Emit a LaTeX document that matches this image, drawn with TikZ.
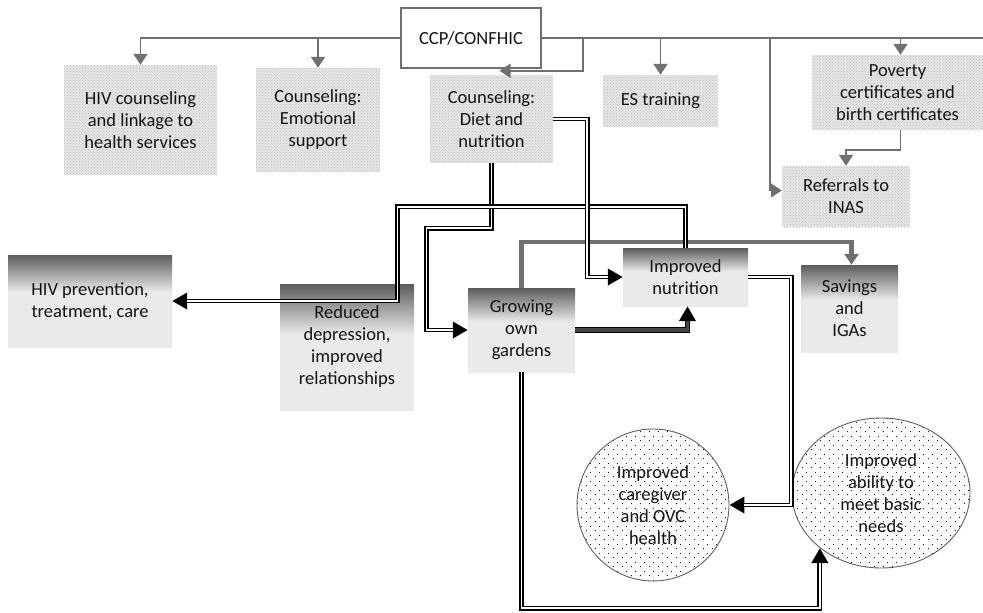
\documentclass[tikz,border=0pt]{standalone}
\usepackage{fontspec}
\setmainfont{Carlito}
\usetikzlibrary{arrows.meta,patterns,patterns.meta,shapes.geometric}

\definecolor{linegray}{RGB}{112,112,112}
\definecolor{boxdark}{RGB}{92,92,92}
\definecolor{boxlight}{RGB}{234,234,234}
\definecolor{inkcol}{RGB}{20,20,20}

% dark band at the top of an outcome box fading into a light body
\pgfdeclareverticalshading{boxshade}{100bp}{color(0bp)=(boxlight); color(25bp)=(boxlight); color(55bp)=(boxlight); color(75bp)=(boxdark); color(100bp)=(boxdark)}

% loose staggered dots for the two result ellipses
\tikzdeclarepattern{
  name=sparsedots,
  type=uncolored,
  bounding box={(0pt,0pt) and (9pt,9pt)},
  tile size={(9pt,9pt)},
  code={
    \fill (1.5pt,1.5pt) circle (0.65pt);
    \fill (6pt,6pt) circle (0.65pt);
  }
}

\tikzset{
  txt/.style={font=\fontsize{18.5}{22}\selectfont, text=inkcol, align=center, inner sep=0pt},
  service/.style={txt, preaction={fill=gray!20}, pattern=crosshatch dots, pattern color=gray!50},
  outcome/.style={txt, shading=boxshade},
  result/.style={txt, draw=gray!75!black, line width=0.9pt, preaction={fill=white},
                 pattern=sparsedots, pattern color=black},
  feed/.style={draw=linegray, line width=1.8pt},
  gtip/.style={-{Triangle[length=11pt,width=14pt]}},
  btip/.style={-{Triangle[length=15pt,width=16pt]}},
  % black double line: thick black stroke with a white core laid on top
  dbl/.style={draw=black, line width=4.9pt, btip,
              postaction={draw=white, line width=1.9pt, arrows=-, shorten >=14.5pt}},
  bar/.style={draw=black, line width=5.6pt, btip,
              postaction={draw=gray!55!black, line width=3.2pt, arrows=-, shorten >=14.5pt}},
  graybar/.style={draw=linegray, line width=4.5pt},
}

\begin{document}
\begin{tikzpicture}[x=1pt,y=-1pt]
\useasboundingbox (0,0) rectangle (983,613);

% organisation and its services
\node[txt, draw=linegray, line width=1.3pt, fill=white, minimum width=140, minimum height=60]
  (ccp) at (471,38) {CCP/CONFHIC};
\node[service, minimum width=153, minimum height=110] (hivc) at (140.5,120)
  {HIV counseling\\and linkage to\\health services};
\node[service, minimum width=124, minimum height=104] (emo) at (318,120)
  {Counseling:\\Emotional\\support};
\node[service, minimum width=123, minimum height=88] (diet) at (491.5,119)
  {Counseling:\\Diet and\\nutrition};
\node[service, minimum width=115, minimum height=52] (es) at (660.5,101) {ES training};
\node[service, minimum width=171, minimum height=75] (pov) at (897.5,92.5)
  {Poverty\\certificates and\\birth certificates};
\node[service, minimum width=128, minimum height=61] (inas) at (846,196.5)
  {Referrals to\\INAS};

% intermediate outcomes
\node[outcome, minimum width=164, minimum height=92] (hivp) at (90,301)
  {HIV prevention,\\treatment, care};
\node[outcome, minimum width=134, minimum height=126] (dep) at (347,347)
  {Reduced\\depression,\\improved\\relationships};
\node[outcome, minimum width=107, minimum height=84] (gard) at (521.5,330)
  {Growing\\own\\gardens};
\node[outcome, minimum width=125, minimum height=58] (nut) at (685.5,277)
  {Improved\\nutrition};
\node[outcome, minimum width=97, minimum height=87] (sav) at (849.5,308.5)
  {Savings\\and\\IGAs};

% final results
\node[result, circle, minimum size=152] (care) at (653,505)
  {Improved\\caregiver\\and OVC\\health};
\node[result, ellipse, minimum width=178, minimum height=150] (abil) at (881,493)
  {Improved\\ability to\\meet basic\\needs};

% service links from the organisation
\coordinate (rend) at (983,38);
\coordinate (dj) at (583,38);
\coordinate (rj) at (770,38);
\draw[feed, gtip] (ccp.west) -| (hivc.north);
\draw[feed, gtip] (ccp.west) -| (emo.north);
\draw[feed] (ccp.east) -- (rend);
\draw[feed, gtip] (dj) |- ([shift={(8,-4)}]diet.north);
\draw[feed, gtip] (ccp.east) -| (es.north);
\draw[feed, gtip] (ccp.east) -| ([xshift=3pt]pov.north);
\draw[feed, gtip] (rj) |- ([yshift=6pt]inas.west);
\draw[feed, gtip] ([xshift=3pt]pov.south) -- ++(0,20) -| (inas.north);

% pathways between outcomes
\draw[graybar, gtip] (gard.north) -- ++(0,-46) -| ([xshift=2pt]sav.north);
\draw[dbl] (diet.south) -- ++(0,65) -- ++(-65,0) |- (gard.west);
\draw[dbl] (nut.north) -- ++(0,-41) -- ++(-288,0) |- (hivp.east);
\draw[dbl] (diet.east) -- ++(34,0) |- (nut.west);
\draw[bar] (gard.east) -| ([xshift=2pt]nut.south);
\draw[dbl] (nut.east) -- ++(43,0) |- (care.east);
\draw[dbl] (gard.south) -- ++(0,236) -| (abil.-138);
\end{tikzpicture}
\end{document}
